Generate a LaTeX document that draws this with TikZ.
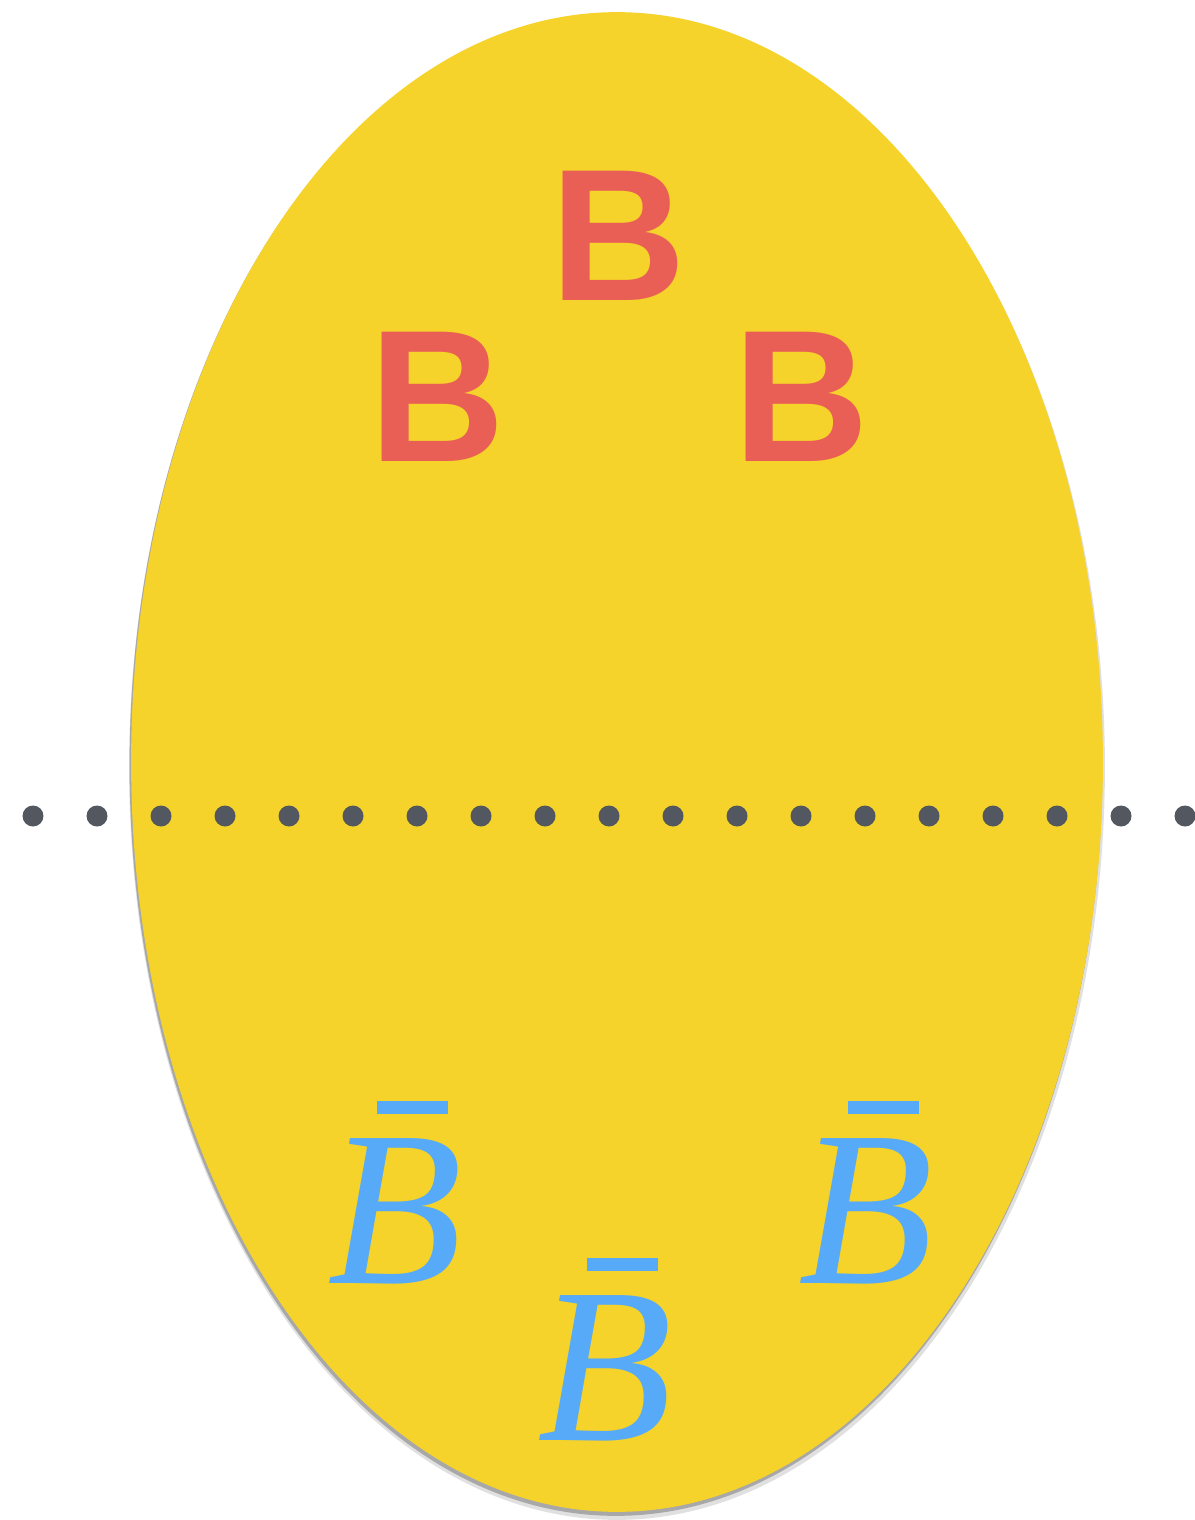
\documentclass[tikz,border=0pt]{standalone}
\usepackage{fontspec}
\setmainfont{Liberation Serif}
\setsansfont{Liberation Sans}
\definecolor{eggyellow}{HTML}{F5D32A}
\definecolor{bred}{HTML}{EA5F55}
\definecolor{bblue}{HTML}{56AAF7}
\definecolor{dotgray}{HTML}{525760}
\newcommand{\myBbar}{\makebox[0pt][l]{\hspace{1.0cm}\raisebox{3.38cm}{\rule{1.42cm}{0.26cm}}}\textit{B}}
\tikzset{
  redB/.style={inner sep=0pt, anchor=base, text=bred, font=\sffamily\bfseries\fontsize{107}{107}\selectfont},
  blueB/.style={inner sep=0pt, anchor=base, text=bblue, font=\rmfamily\fontsize{126}{126}\selectfont},
  dotmark/.style={fill=dotgray}
}
\begin{document}
\begin{tikzpicture}[x=0.02cm,y=-0.02cm]
\useasboundingbox (0,0) rectangle (1194,1520);
% shadow
\fill[black, opacity=0.12] (617,767) ellipse [x radius=9.76cm, y radius=15.06cm];
\fill[black, opacity=0.25] (616,765) ellipse [x radius=9.73cm, y radius=15.02cm];
% egg
\fill[eggyellow] (617,762) ellipse [x radius=9.72cm, y radius=15cm];
% dotted line
\foreach \i in {0,...,18}{
  \fill[dotmark] ({33+64*\i},816) circle [radius=0.21cm];
}
% red B
\node[redB] (r1) at (618,300) {B};
\node[redB] (r2) at (437,461) {B};
\node[redB] (r3) at (801,461) {B};
% blue B bar
\node[blueB] (b1) at (395,1283) {\myBbar};
\node[blueB] (b2) at (866,1283) {\myBbar};
\node[blueB] (b3) at (605,1440) {\myBbar};
\end{tikzpicture}
\end{document}
